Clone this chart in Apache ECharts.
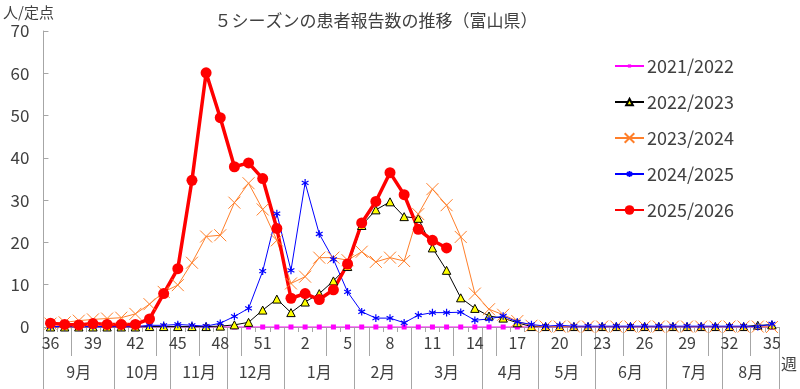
<!DOCTYPE html>
<html>
<head>
<meta charset="utf-8">
<script src="https://cdn.jsdelivr.net/npm/echarts@6/dist/echarts.min.js"></script>
<style>html,body{margin:0;padding:0;background:#fff}#c{width:800px;height:389px}</style>
</head>
<body>
<div id="c"></div>
<script>
const weeks = ['36','37','38','39','40','41','42','43','44','45','46','47','48','49','50','51','52',
  '1','2','3','4','5','6','7','8','9','10','11','12','13','14','15','16','17','18','19','20',
  '21','22','23','24','25','26','27','28','29','30','31','32','33','34','35'];
const months = ['9月','10月','11月','12月','1月','2月','3月','4月','5月','6月','7月','8月'];
const monthWeeks = [5,4,4,4,5,4,5,4,4,5,4,4];
const seriesNames = ['2021/2022','2022/2023','2023/2024','2024/2025','2025/2026'];

const s2021 = [0,0,0,0,0,0,0,0,0,0,0,0,0,0,0,0,0,
  0,0,0,0,0,0,0,0,0,0,0,0,0,0,0,0,0,0,0,0,0,0,0,0,0,0,0,0,0,0,0,0,0,0,0];
const s2022 = [0,0,0,0,0,0,0,0.1,0.1,0.1,0.1,0.1,0.2,0.5,1.1,4.0,6.6,
  3.4,5.9,7.9,10.9,14.3,24.0,27.7,29.6,26.1,25.7,18.7,13.4,6.9,4.4,2.6,2.1,1.0,0.1,0.1,0.1,
  0.1,0.1,0.1,0.1,0.1,0.1,0.1,0.1,0.1,0.1,0.1,0.1,0.1,0.4,0.5];
const s2023 = [0.8,1.1,1.5,1.8,2.0,2.2,3.1,5.4,8.3,9.9,15.2,21.4,21.7,29.4,34.0,27.8,20.5,
  10.3,11.9,16.4,16.4,15.8,17.8,15.4,16.4,15.6,26.7,32.6,28.8,21.3,7.9,4.2,2.9,1.4,0.3,0.1,0.1,
  0.1,0.1,0.1,0.1,0.1,0.1,0.1,0.1,0.1,0.1,0.1,0.1,0.1,0.1,0.0];
const s2024 = [0.1,0.1,0.1,0.1,0.1,0.1,0.1,0.4,0.4,0.6,0.4,0.2,0.9,2.5,4.4,13.2,26.8,
  13.4,34.1,22.0,16.0,8.3,3.6,2.1,2.1,1.0,2.8,3.4,3.4,3.5,1.6,1.9,2.6,1.2,0.6,0.2,0.4,
  0.2,0.2,0.2,0.2,0.2,0.2,0.2,0.2,0.2,0.2,0.2,0.2,0.2,0.1,0.7];
const s2025 = [0.9,0.6,0.5,0.8,0.6,0.6,0.6,1.9,7.9,13.8,34.7,60.1,49.5,37.9,38.8,35.1,23.3,
  6.8,7.9,6.5,8.8,14.9,24.6,29.7,36.5,31.3,23.1,20.5,18.7,null,null,null,null,null,null,null,null,
  null,null,null,null,null,null,null,null,null,null,null,null,null,null,null];

const labelStep = 3; // one week label every 3 weeks

// month boundaries and centres in week units
const monthBounds = [0];
monthWeeks.forEach(w => monthBounds.push(monthBounds[monthBounds.length - 1] + w));
const monthCenters = months.map((m, i) => (monthBounds[i] + monthBounds[i + 1]) / 2);
// separators between week-label slots (each label centred in a 3-week slot)
const labelSeps = [];
for (let b = labelStep - 1; b < weeks.length; b += labelStep) labelSeps.push(b);

const FONT = '"Noto Sans CJK JP", "Noto Sans", sans-serif';
const TXT = '#404040';
const AX = '#A6A6A6';

const SYM_SQUARE = 'path://M0,0M12,12M4,4L8,4L8,8L4,8Z';
const SYM_TRI = 'path://M0,0M12,12M6,2L10.2,10L1.8,10Z';
const SYM_X = 'path://M0,0L10,10M10,0L0,10';
const SYM_AST = 'path://M0,0M12,12M6,2.2L6,9.8M2.6,4.1L9.4,7.9M2.6,7.9L9.4,4.1';

const chart = echarts.init(document.getElementById('c'));
chart.setOption({
  animation: false,
  textStyle: { fontFamily: FONT },
  title: {
    text: '５シーズンの患者報告数の推移（富山県）',
    left: 371, top: 7, textAlign: 'center',
    textStyle: { fontSize: 17, fontWeight: 'normal', color: TXT, fontFamily: FONT }
  },
  legend: {
    orient: 'vertical', left: 609, top: 52, itemGap: 18,
    itemWidth: 29, itemHeight: 12,
    textStyle: { fontSize: 18, color: TXT, fontFamily: FONT, padding: [0, 0, 0, -2] },
    data: seriesNames
  },
  grid: { left: 43, right: 19, top: 31, bottom: 62 },
  xAxis: [{
    type: 'category', data: weeks, boundaryGap: true,
    axisLine: { lineStyle: { color: AX } },
    axisTick: { show: true, interval: 0, length: 5, lineStyle: { color: AX } },
    axisLabel: { interval: labelStep - 1, margin: 8, fontSize: 16, color: TXT, fontFamily: FONT },
    splitLine: { show: false }
  }, {
    type: 'value', min: 0, max: 52, position: 'bottom',
    axisLine: { show: false },
    axisTick: { show: true, customValues: monthBounds, length: 62, inside: false, lineStyle: { color: AX } },
    axisLabel: {
      customValues: monthCenters, margin: 37, fontSize: 16, color: TXT, fontFamily: FONT,
      formatter: v => { const i = monthCenters.indexOf(v); return i >= 0 ? months[i] : ''; }
    },
    splitLine: { show: false },
    name: '週', nameLocation: 'end', nameGap: 2,
    nameTextStyle: { fontSize: 16, color: TXT, verticalAlign: 'top', padding: [29, 0, 0, 0], fontFamily: FONT }
  }, {
    type: 'value', min: 0, max: 52, position: 'bottom',
    axisLine: { show: false },
    axisTick: { show: true, customValues: labelSeps, length: 29, inside: false, lineStyle: { color: AX } },
    axisLabel: { show: false },
    splitLine: { show: false }
  }],
  yAxis: {
    type: 'value', min: 0, max: 70, interval: 10,
    name: '人/定点', nameLocation: 'end', nameGap: 11,
    nameTextStyle: { fontSize: 15, color: TXT, align: 'center', padding: [0, 30, 0, 0], fontFamily: FONT },
    axisLine: { show: true, lineStyle: { color: AX } },
    axisTick: { show: true, inside: true, length: 5, lineStyle: { color: AX } },
    axisLabel: { fontSize: 17, color: TXT, margin: 14, fontFamily: FONT },
    splitLine: { show: false }
  },
  series: [{
    name: seriesNames[0], type: 'line', data: s2021, showAllSymbol: true,
    symbol: SYM_SQUARE, symbolSize: 15,
    lineStyle: { color: '#FF00FF', width: 1 },
    itemStyle: { color: '#FF00FF', borderWidth: 0 }
  }, {
    name: seriesNames[1], type: 'line', data: s2022, showAllSymbol: true,
    symbol: SYM_TRI, symbolSize: 12,
    lineStyle: { color: '#000000', width: 1 },
    itemStyle: { color: '#FFFF00', borderColor: '#000000', borderWidth: 1 }
  }, {
    name: seriesNames[2], type: 'line', data: s2023, showAllSymbol: true,
    symbol: SYM_X, symbolSize: 12,
    lineStyle: { color: '#FF7F2A', width: 1 },
    itemStyle: { color: 'transparent', borderColor: '#FF7F2A', borderWidth: 1 }
  }, {
    name: seriesNames[3], type: 'line', data: s2024, showAllSymbol: true,
    symbol: SYM_AST, symbolSize: 12,
    lineStyle: { color: '#0000FF', width: 1 },
    itemStyle: { color: 'transparent', borderColor: '#0000FF', borderWidth: 1.2 }
  }, {
    name: seriesNames[4], type: 'line', data: s2025, showAllSymbol: true,
    symbol: 'circle', symbolSize: 11,
    lineStyle: { color: '#FF0000', width: 3.5 },
    itemStyle: { color: '#FF0000' }
  }]
});
</script>
</body>
</html>
